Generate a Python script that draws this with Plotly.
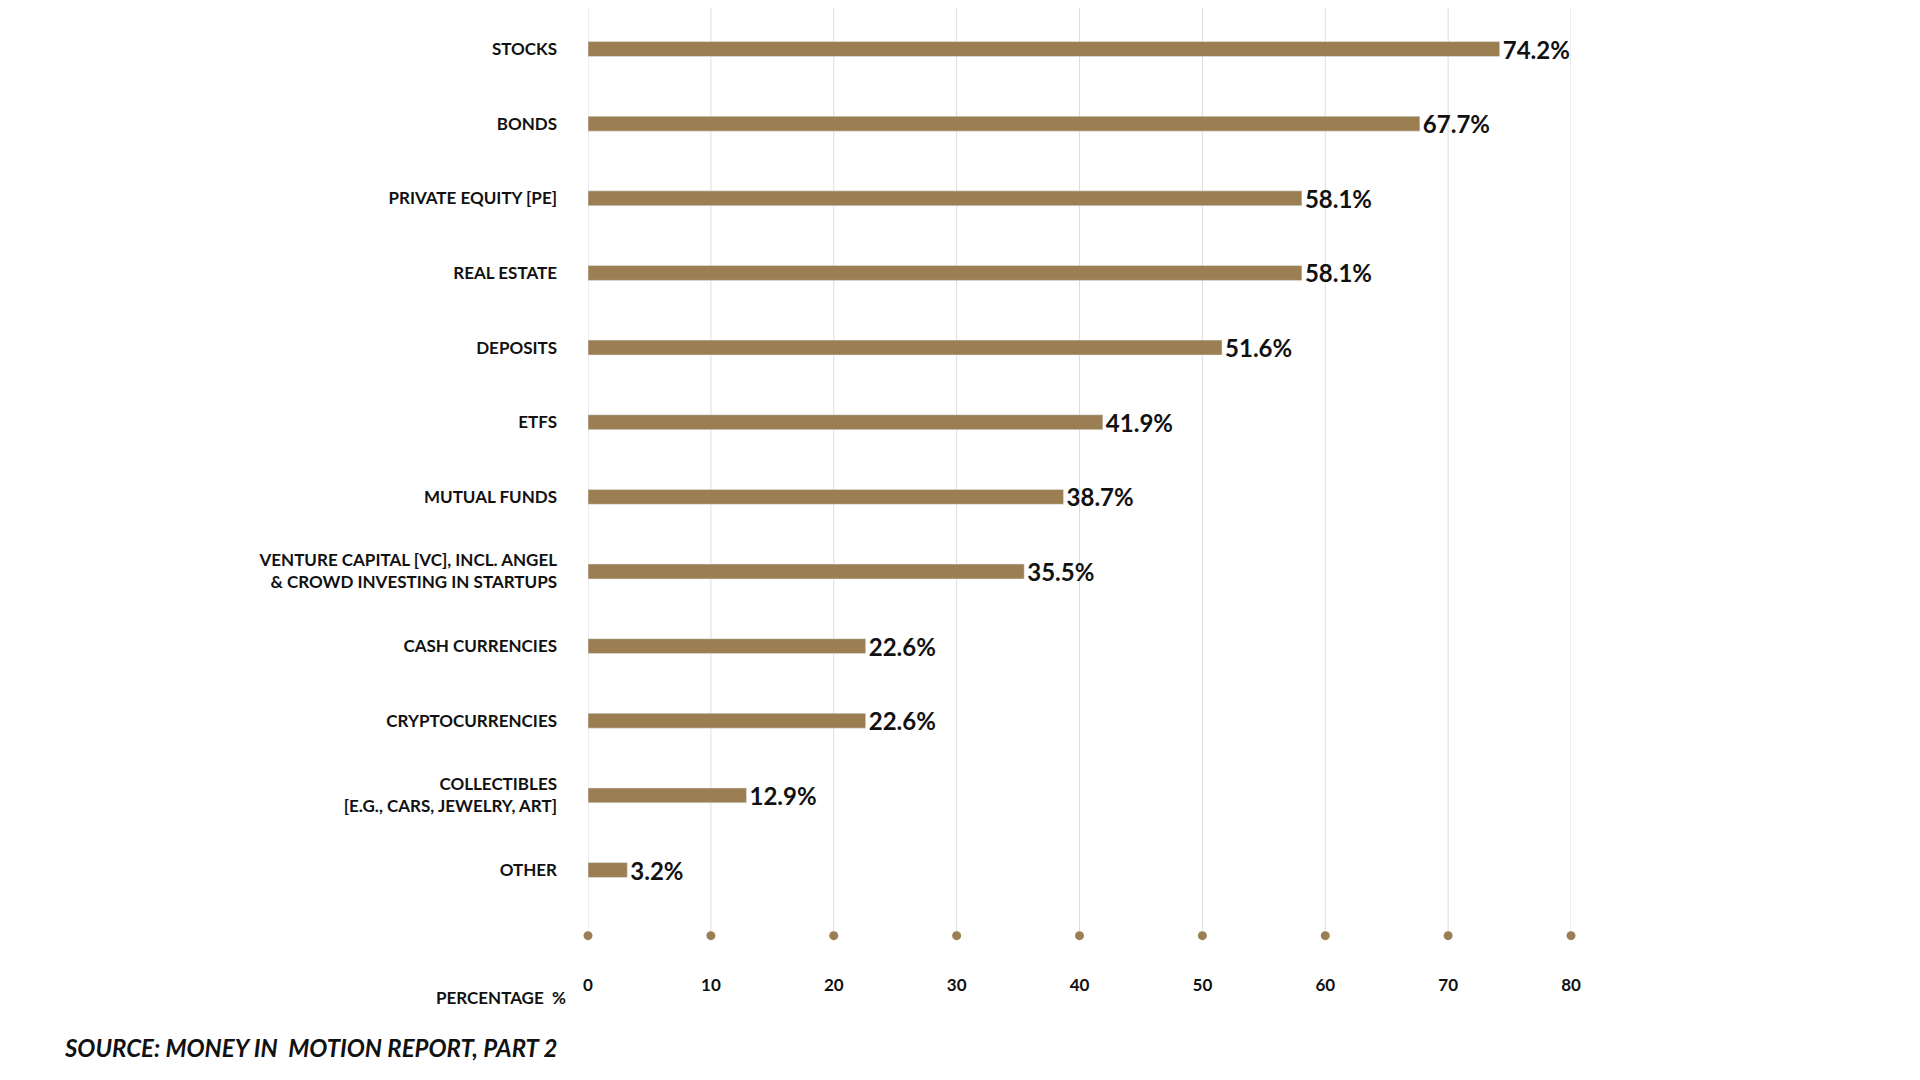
import plotly.graph_objects as go

categories = ["STOCKS", "BONDS", "PRIVATE EQUITY [PE]", "REAL ESTATE", "DEPOSITS", "ETFS",
              "MUTUAL FUNDS", "VENTURE CAPITAL [VC], INCL. ANGEL<br>& CROWD INVESTING IN STARTUPS",
              "CASH CURRENCIES", "CRYPTOCURRENCIES", "COLLECTIBLES<br>[E.G., CARS, JEWELRY, ART]", "OTHER"]
values = [74.2, 67.7, 58.1, 58.1, 51.6, 41.9, 38.7, 35.5, 22.6, 22.6, 12.9, 3.2]
ticks = [0, 10, 20, 30, 40, 50, 60, 70, 80]

gold = "#9b7f53"
pos = list(range(len(categories)))
dot_y = 11.88

fig = go.Figure()
for t in ticks:
    fig.add_shape(type="line", x0=t, x1=t, y0=-0.55, y1=dot_y, layer="below",
                  line=dict(color="#dddddd", width=1))
fig.add_trace(go.Bar(x=values, y=pos, orientation="h", width=0.2, marker_color=gold,
                     text=[f"<b>{v}%</b>" for v in values], textposition="outside",
                     constraintext="none",
                     textfont=dict(size=24, color="#111111"), cliponaxis=False, showlegend=False))
fig.add_trace(go.Scatter(x=ticks, y=[dot_y] * len(ticks), mode="markers",
                         marker=dict(color=gold, size=9), showlegend=False, cliponaxis=False))

fig.update_layout(
    width=1920, height=1080, plot_bgcolor="white", paper_bgcolor="white",
    margin=dict(l=580, r=357, t=0, b=115),
    font=dict(family="Lato, Open Sans, sans-serif", color="#111111"),
    bargap=0.8,
    xaxis=dict(range=[0, 80], tickvals=ticks, ticktext=[f"<b>{t}</b>" for t in ticks],
               showgrid=False, zeroline=False, showline=False, tickfont=dict(size=17), ticks=""),
    yaxis=dict(range=[12.38, -0.55], tickvals=pos, ticktext=[f"<b>{c}</b>" for c in categories],
               showgrid=False, zeroline=False, showline=False, tickfont=dict(size=17),
               ticklabelstandoff=30),
)
fig.add_annotation(text="<b>PERCENTAGE  %</b>", xref="paper", yref="paper", x=-0.02, y=-0.012,
                   xanchor="right", yanchor="top", showarrow=False, font=dict(size=17))
fig.add_annotation(text="<b><i>SOURCE: MONEY IN  MOTION REPORT, PART 2</i></b>", xref="paper", yref="paper",
                   x=-0.535, y=-0.06, xanchor="left", yanchor="top", showarrow=False, font=dict(size=24))

fig.write_html("out.html")
